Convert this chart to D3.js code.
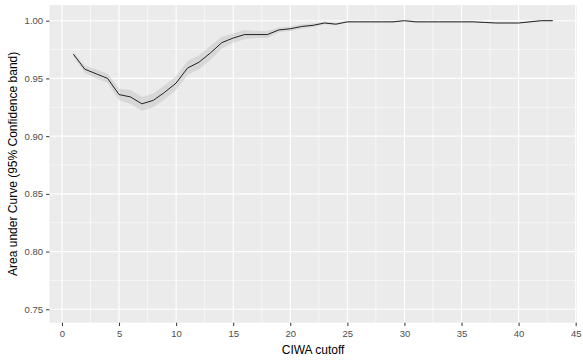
<!DOCTYPE html>
<html><head><meta charset="utf-8">
<script src="https://cdn.jsdelivr.net/npm/d3@7"></script>
<style>body{margin:0;background:#fff}svg{display:block}</style>
</head><body>
<script>
const cutoffs = d3.range(1, 44);
const auc = [0.971,0.958,0.954,0.950,0.936,0.934,0.928,0.931,0.938,0.946,
  0.959,0.964,0.972,0.981,0.985,0.988,0.988,0.988,0.992,0.993,
  0.995,0.996,0.998,0.997,0.999,0.999,0.999,0.999,0.999,1.000,
  0.999,0.999,0.999,0.999,0.999,0.999,0.9985,0.998,0.998,0.998,
  0.999,1.000,1.000];
const lower = [0.969,0.955,0.950,0.946,0.931,0.928,0.922,0.925,0.932,0.940,
  0.953,0.958,0.966,0.976,0.981,0.984,0.985,0.985,0.990,0.991,
  0.993,0.9945,0.997,0.996,0.9985,0.9985,0.9985,0.9985,0.9985,0.9995,
  0.9985,0.9985,0.9985,0.9985,0.9985,0.9985,0.998,0.9975,0.9975,0.9975,
  0.9985,0.9995,0.9995];
const upper = [0.973,0.961,0.958,0.954,0.941,0.940,0.934,0.937,0.944,0.952,
  0.965,0.970,0.978,0.986,0.989,0.992,0.991,0.991,0.994,0.995,
  0.997,0.9975,0.999,0.998,0.9995,0.9995,0.9995,0.9995,0.9995,1.0005,
  0.9995,0.9995,0.9995,0.9995,0.9995,0.9995,0.999,0.9985,0.9985,0.9985,
  0.9995,1.0005,1.0005];
const xTicks = [0,5,10,15,20,25,30,35,40,45];
const yTicks = [0.75,0.80,0.85,0.90,0.95,1.00];
const xTitle = "CIWA cutoff";
const yTitle = "Area under Curve (95% Confidence band)";

const W = 583, H = 360;
const panel = {l: 49.4, r: 576.8, t: 5, b: 322.7};
const x = d3.scaleLinear().domain([-1.1, 45.1]).range([panel.l, panel.r]);
const y = d3.scaleLinear().domain([0.7384, 1.0136]).range([panel.b, panel.t]);

const svg = d3.select("body").append("svg").attr("width", W).attr("height", H);
svg.append("rect").attr("x", panel.l).attr("y", panel.t)
  .attr("width", panel.r - panel.l).attr("height", panel.b - panel.t).attr("fill", "#EBEBEB");

const g = svg.append("g");
const xMinor = d3.range(2.5, 45, 5);
const yMinor = d3.range(0.775, 1.01, 0.05);
g.selectAll(".xm").data(xMinor).join("line")
  .attr("x1", d => x(d)).attr("x2", d => x(d)).attr("y1", panel.t).attr("y2", panel.b)
  .attr("stroke", "#fff").attr("stroke-width", 0.55);
g.selectAll(".ym").data(yMinor).join("line")
  .attr("y1", d => y(d)).attr("y2", d => y(d)).attr("x1", panel.l).attr("x2", panel.r)
  .attr("stroke", "#fff").attr("stroke-width", 0.55);
g.selectAll(".xM").data(xTicks).join("line")
  .attr("x1", d => x(d)).attr("x2", d => x(d)).attr("y1", panel.t).attr("y2", panel.b)
  .attr("stroke", "#fff").attr("stroke-width", 1.1);
g.selectAll(".yM").data(yTicks).join("line")
  .attr("y1", d => y(d)).attr("y2", d => y(d)).attr("x1", panel.l).attr("x2", panel.r)
  .attr("stroke", "#fff").attr("stroke-width", 1.1);

const data = cutoffs.map((c, i) => ({c, v: auc[i], lo: lower[i], hi: upper[i]}));
svg.append("path").datum(data)
  .attr("d", d3.area().x(d => x(d.c)).y0(d => y(d.lo)).y1(d => y(d.hi)))
  .attr("fill", "#A8A8A8").attr("fill-opacity", 0.3);
svg.append("path").datum(data)
  .attr("d", d3.line().x(d => x(d.c)).y(d => y(d.v)))
  .attr("fill", "none").attr("stroke", "#222").attr("stroke-width", 1);

const xAxis = d3.axisBottom(x).tickValues(xTicks).tickSize(3.3).tickPadding(4).tickFormat(d3.format("d"));
const gx = svg.append("g").attr("transform", `translate(0,${panel.b})`).call(xAxis);
gx.select(".domain").remove();
gx.selectAll("line").attr("stroke", "#333");
gx.selectAll("text").attr("fill", "#4D4D4D").style("font", "9.5px 'Liberation Sans', Arial, sans-serif");

const yAxis = d3.axisLeft(y).tickValues(yTicks).tickSize(3.3).tickPadding(3).tickFormat(d3.format(".2f"));
const gy = svg.append("g").attr("transform", `translate(${panel.l},0)`).call(yAxis);
gy.select(".domain").remove();
gy.selectAll("line").attr("stroke", "#333");
gy.selectAll("text").attr("fill", "#4D4D4D").style("font", "9.5px 'Liberation Sans', Arial, sans-serif");

svg.append("text").attr("x", (panel.l + panel.r) / 2).attr("y", 354)
  .attr("text-anchor", "middle").style("font", "12px 'Liberation Sans', Arial, sans-serif")
  .attr("fill", "#000").text(xTitle);
svg.append("text").attr("transform", `translate(17,${(panel.t + panel.b) / 2}) rotate(-90)`)
  .attr("text-anchor", "middle").style("font", "12px 'Liberation Sans', Arial, sans-serif")
  .attr("fill", "#000").text(yTitle);
</script>
</body></html>
